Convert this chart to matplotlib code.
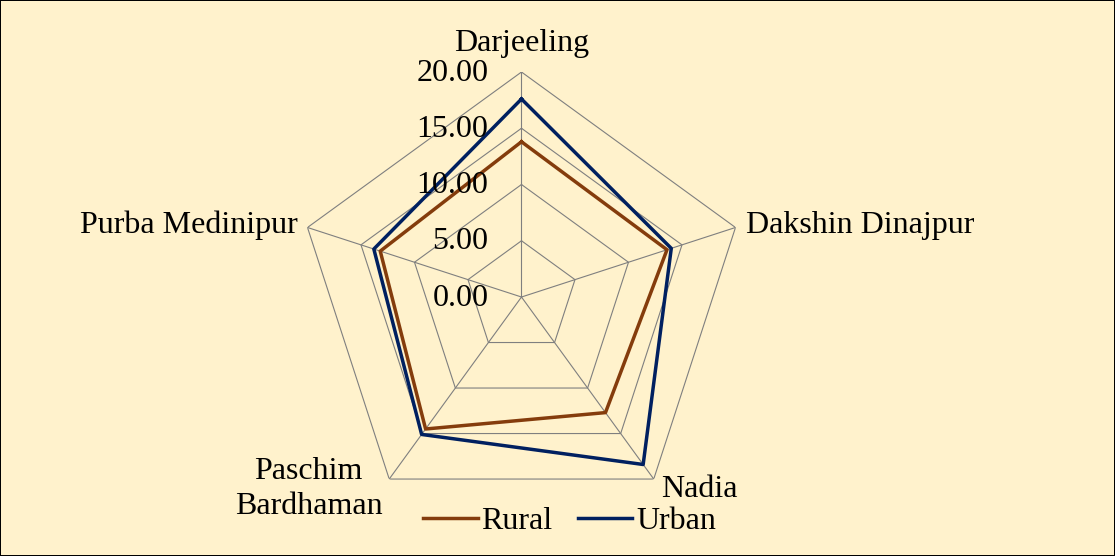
import numpy as np
import matplotlib
matplotlib.use('Agg')
import matplotlib.pyplot as plt

districts = ['Darjeeling', 'Dakshin Dinajpur', 'Nadia', 'Paschim\nBardhaman', 'Purba Medinipur']
rural = [13.8, 13.6, 12.7, 14.5, 13.2]
urban = [17.6, 14.0, 18.4, 15.1, 13.8]
levels = [0, 5, 10, 15, 20]
level_labels = ['0.00', '5.00', '10.00', '15.00', '20.00']

plt.rcParams['font.family'] = ['Liberation Serif', 'DejaVu Serif']

bg = '#FFF2CC'
fig = plt.figure(figsize=(11.15, 5.56), dpi=100)
fig.patch.set_facecolor(bg)
fig.patch.set_edgecolor('black')
fig.patch.set_linewidth(1.2)

ax = fig.add_axes([0.2659, 0.0611, 0.4036, 0.8094], projection='polar')
ax.set_facecolor('none')
ax.set_theta_offset(np.pi / 2)
ax.set_theta_direction(-1)
ax.set_ylim(0, 20)
ax.spines['polar'].set_visible(False)
ax.grid(False)
ax.set_xticks([])
ax.set_yticks([])

n = len(districts)
theta = np.linspace(0, 2 * np.pi, n, endpoint=False)
closed = np.append(theta, theta[0])

grid_col = '#7f7f7f'
for lv in levels[1:]:
    ax.plot(closed, [lv] * (n + 1), color=grid_col, lw=0.8, zorder=1)
for t in theta:
    ax.plot([t, t], [0, 20], color=grid_col, lw=0.8, zorder=1)

ax.plot(closed, rural + rural[:1], color='#843C0C', lw=2.5, zorder=3, label='Rural')
ax.plot(closed, urban + urban[:1], color='#002060', lw=2.5, zorder=3, label='Urban')

fs = 23
for lv, lab in zip(levels, level_labels):
    ax.annotate(lab, xy=(0, lv), xytext=(-33, -1), textcoords='offset pixels',
                ha='right', va='center', fontsize=fs, annotation_clip=False)

offsets = [(0, 29, 'center'), (11, 2, 'left'), (7, -10, 'left'),
           (-7, -10, 'right'), (-10, 2, 'right')]
for t, name, (dx, dy, ha) in zip(theta, districts, offsets):
    ax.annotate(name, xy=(t, 20), xytext=(dx, dy), textcoords='offset pixels',
                ha=ha, va='center', multialignment='center', fontsize=fs,
                annotation_clip=False, linespacing=1.25)

fig.legend(loc='center', bbox_to_anchor=(0.511, 0.062), ncol=2, frameon=False,
           fontsize=fs, handlelength=1.7, handletextpad=0.12, columnspacing=0.8)

fig.savefig('out.png', dpi=100, facecolor=bg, edgecolor='black')
